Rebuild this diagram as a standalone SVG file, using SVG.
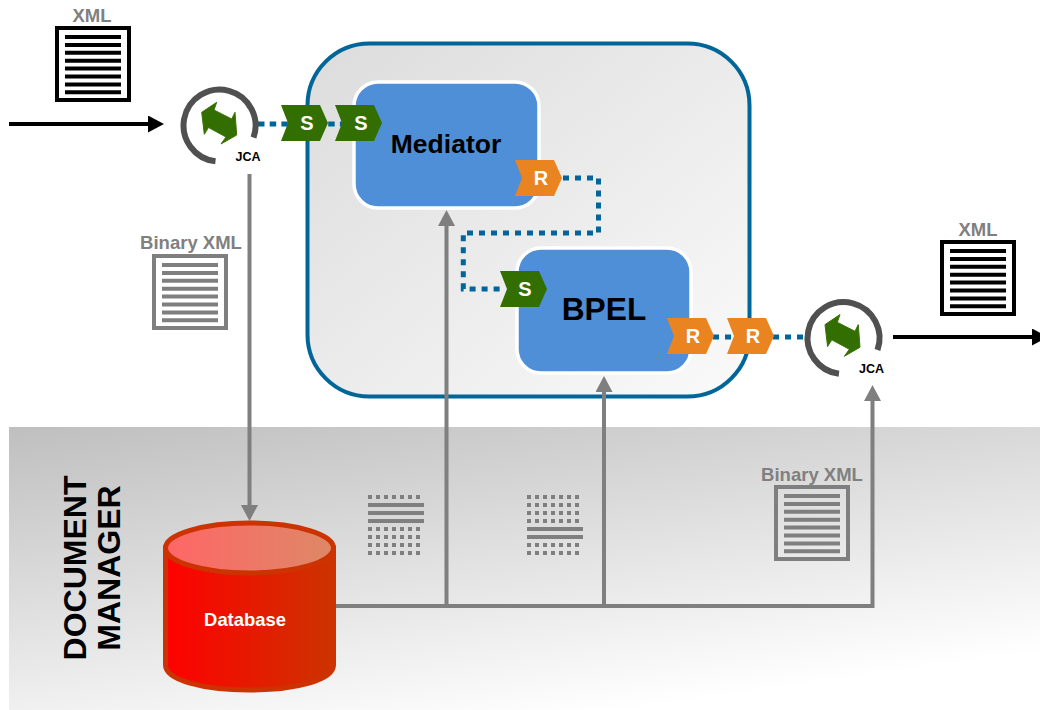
<svg xmlns="http://www.w3.org/2000/svg" xmlns:xlink="http://www.w3.org/1999/xlink" width="1040" height="710" viewBox="0 0 1040 710">
<style>
text{font-family:"Liberation Sans",Arial,sans-serif;font-weight:700;text-anchor:middle}
.g{fill:#808080;font-size:18.500px}
.tag{font-size:20px;fill:#fff}
.dot{fill:none;stroke:#006699;stroke-width:5;stroke-dasharray:6 6}
.gl{fill:none;stroke:#7f7f7f;stroke-width:4}
.ring{fill:none;stroke:#505050;stroke-width:6}
.sw{fill:#336f00}
.ro{fill:#e98420}
.box{fill:#4f8fd8;stroke:#fff;stroke-width:3.5}
.sq{fill:#7f7f7f}
</style>
<defs>
<linearGradient id="band" gradientUnits="userSpaceOnUse" x1="9" y1="427" x2="60" y2="790"><stop offset="0" stop-color="#bfbfbf"/><stop offset="1" stop-color="#ffffff"/></linearGradient>
<linearGradient id="cont" x1="0" y1="0" x2="1" y2="1"><stop offset="0" stop-color="#dcdcdc"/><stop offset="1" stop-color="#fafafa"/></linearGradient>
<linearGradient id="dbb" x1="0" y1="0" x2="1" y2="0"><stop offset="0" stop-color="#ff0000"/><stop offset="1" stop-color="#cc3300"/></linearGradient>
<linearGradient id="dbt" x1="0" y1="0" x2="1" y2="0"><stop offset="0" stop-color="#ff6666"/><stop offset="1" stop-color="#dd8866"/></linearGradient>
<polygon id="tag" points="0,0 39,0 47,18 39,36 0,36 7,18"/>
<polygon id="swap" points="-3.300,-21.700 -18.300,-11.700 -15.700,10.300 -11.500,3.500 6,13 1,20 16.700,11 15,-11.700 11.700,-5 -6,-14" fill="#336f00" stroke="#3d7206" stroke-width="1"/>
<marker id="ah" markerUnits="userSpaceOnUse" markerWidth="17" markerHeight="17" refX="0" refY="8.500" orient="auto"><path d="M0,0L16,8.500L0,17z" fill="#7f7f7f"/></marker>
<marker id="ak" markerUnits="userSpaceOnUse" markerWidth="17" markerHeight="17" refX="0" refY="8.500" orient="auto"><path d="M0,0L16,8.500L0,17z" fill="#000"/></marker>
<g id="lines"><path d="M65 37h56M65 44.900h56M65 52.800h56M65 60.700h56M65 68.600h56M65 76.500h56M65 84.400h56M65 92.300h56" fill="none" stroke="currentColor" stroke-width="4"/></g>
<g id="doc"><rect x="2" y="2" width="72" height="72" fill="none" stroke="currentColor" stroke-width="4"/><g transform="translate(-55,-26)"><use xlink:href="#lines"/></g></g>
<g id="sqrow"><rect x="0" width="4" height="4"/><rect x="8" width="4" height="4"/><rect x="16" width="4" height="4"/><rect x="24" width="4" height="4"/><rect x="32" width="4" height="4"/><rect x="40" width="4" height="4"/><rect x="48" width="4" height="4"/></g>
</defs>
<rect x="9" y="427" width="1031" height="283" fill="url(#band)"/>
<g id="container"><rect x="307.500" y="43.500" width="442" height="353" rx="62" fill="url(#cont)" stroke="#006699" stroke-width="4"/></g>
<g id="mediator"><rect x="354" y="82" width="185" height="126" rx="24" class="box"/><text x="446" y="153" font-size="26.500" fill="#000">Mediator</text></g>
<g id="bpel"><rect x="517" y="248" width="174" height="125" rx="24" class="box"/><text x="604" y="320" font-size="31.700" fill="#000">BPEL</text></g>
<g id="connectors">
<path class="dot" style="stroke-dasharray:6.500 5.200" d="M258 124H350"/>
<path class="dot" d="M563 178H598.500V233H463.300V289H500"/>
<path class="dot" d="M713 337H805"/>
<path d="M9 124H148" fill="none" stroke="#000" stroke-width="4" marker-end="url(#ak)"/>
<path d="M893 337H1032" fill="none" stroke="#000" stroke-width="4" marker-end="url(#ak)"/>
<path class="gl" d="M249.500 174V505" marker-end="url(#ah)"/>
<path class="gl" d="M335 606H872.500V401" marker-end="url(#ah)"/>
<path class="gl" d="M446.500 606V226" marker-end="url(#ah)"/>
<path class="gl" d="M604 606V392" marker-end="url(#ah)"/>
</g>
<g id="s1"><use xlink:href="#tag" x="281" y="105" class="sw"/><text x="307" y="130" class="tag">S</text></g>
<g id="s2"><use xlink:href="#tag" x="335" y="105" class="sw"/><text x="361" y="130" class="tag">S</text></g>
<g id="r1"><use xlink:href="#tag" x="515" y="160" class="ro"/><text x="541" y="185" class="tag">R</text></g>
<g id="s3"><use xlink:href="#tag" x="500" y="271" class="sw"/><text x="525" y="296" class="tag">S</text></g>
<g id="r2"><use xlink:href="#tag" x="667" y="318" class="ro"/><text x="693" y="343" class="tag">R</text></g>
<g id="r3"><use xlink:href="#tag" x="727" y="318" class="ro"/><text x="753" y="343" class="tag">R</text></g>
<g id="jca1"><path class="ring" d="M215.500 161.300A36 36 0 1 1 253.500 137.500"/><use xlink:href="#swap" x="220" y="124"/><text x="248" y="161" font-size="12.500" fill="#000">JCA</text></g>
<g id="jca2"><path class="ring" d="M839 373.800A36 36 0 1 1 877.500 350"/><use xlink:href="#swap" x="843.300" y="336.300"/><text x="871.500" y="373" font-size="12.500" fill="#000">JCA</text></g>
<g id="xml1" color="#000"><text x="92" y="22" class="g">XML</text><rect x="55" y="26" width="76" height="76" fill="#fff"/><use xlink:href="#doc" x="55" y="26"/></g>
<g id="xml2" color="#000"><text x="978" y="236" class="g">XML</text><rect x="940" y="240" width="76" height="76" fill="#fff"/><use xlink:href="#doc" x="940" y="240"/></g>
<g id="bin1" color="#7f7f7f"><text x="191" y="249" class="g">Binary XML</text><use xlink:href="#doc" x="152" y="254"/></g>
<g id="bin2" color="#7f7f7f"><text x="812" y="481" class="g">Binary XML</text><use xlink:href="#doc" x="774" y="485"/></g>
<g id="packet1" class="sq">
<use xlink:href="#sqrow" x="368" y="495"/>
<rect x="368" y="503" width="56" height="4"/><rect x="368" y="511" width="56" height="4"/><rect x="368" y="519" width="56" height="4"/>
<use xlink:href="#sqrow" x="368" y="527"/><use xlink:href="#sqrow" x="368" y="535"/><use xlink:href="#sqrow" x="368" y="543"/><use xlink:href="#sqrow" x="368" y="551"/>
</g>
<g id="packet2" class="sq">
<use xlink:href="#sqrow" x="527" y="495"/><use xlink:href="#sqrow" x="527" y="503"/><use xlink:href="#sqrow" x="527" y="511"/><use xlink:href="#sqrow" x="527" y="519"/>
<rect x="527" y="527" width="56" height="4"/><rect x="527" y="535" width="56" height="4"/>
<use xlink:href="#sqrow" x="527" y="543"/><use xlink:href="#sqrow" x="527" y="551"/>
</g>
<g id="database">
<path d="M165.500 548V665C165.500 680 203 690 249.500 690S333.500 680 333.500 665V548z" fill="url(#dbb)" stroke="#cc3300" stroke-width="5"/>
<ellipse cx="249.500" cy="548" rx="84" ry="25" fill="url(#dbt)" stroke="#cc3300" stroke-width="5"/>
<text x="245" y="626" font-size="18.400" fill="#fff">Database</text>
</g>
<g id="docmgr" fill="#000" font-size="32"><text transform="translate(86,568) rotate(-90)">DOCUMENT</text><text transform="translate(120,568) rotate(-90)">MANAGER</text></g>
</svg>
